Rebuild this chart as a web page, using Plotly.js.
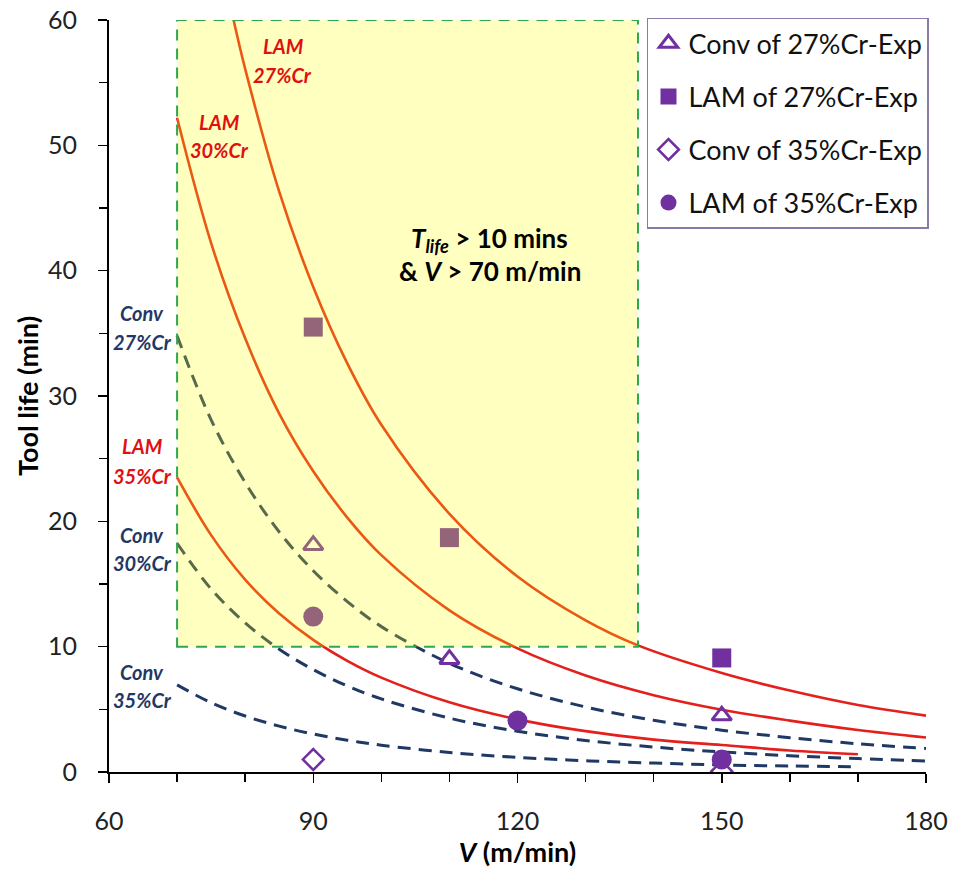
<!DOCTYPE html>
<html>
<head>
<meta charset="utf-8">
<script src="https://cdn.plot.ly/plotly-3.0.1.min.js"></script>
<style>html,body{margin:0;padding:0;background:#fff;}#chart{width:955px;height:874px;}</style>
</head>
<body>
<div id="chart"></div>
<script>
// ---- Data ----
const xTickVals = [60, 90, 120, 150, 180];
const yTickVals = [0, 10, 20, 30, 40, 50, 60];

// Model curves (solid red = LAM, dashed navy = Conv)
const V_LAM27 = [78.3, 80, 85, 90, 95, 100, 110, 120, 130, 137.7, 150, 160, 170, 180];
const T_LAM27 = [60, 56.1, 46.3, 38.7, 32.6, 27.7, 20.6, 15.6, 12.1, 10.1, 7.9, 6.5, 5.35, 4.5];

const V_LAM30 = [70, 75, 80, 85, 90, 95, 100, 110, 120, 130, 140, 150, 160, 170, 180];
const T_LAM30 = [52.2, 42.2, 34.6, 28.6, 24.0, 20.3, 17.3, 12.9, 9.86, 7.7, 6.13, 4.97, 4.1, 3.35, 2.75];

const V_LAM35 = [70, 75, 80, 85, 90, 95, 100, 110, 120, 130, 140, 150, 160, 170];
const T_LAM35 = [23.5, 18.9, 15.35, 12.65, 10.54, 8.87, 7.53, 5.56, 4.2, 3.26, 2.58, 2.15, 1.72, 1.42];

const V_CONV27 = [70, 75, 80, 85, 90, 95, 100, 110, 120, 130, 140, 150, 160, 170, 180];
const T_CONV27 = [34.8, 28.1, 23.1, 19.15, 16.06, 13.6, 11.6, 8.67, 6.64, 5.19, 4.13, 3.34, 2.74, 2.25, 1.88];

const V_CONV30 = [70, 75, 80, 85, 90, 95, 100, 110, 120, 130, 140, 150, 160, 170, 180];
const T_CONV30 = [18.25, 14.6, 11.9, 9.8, 8.17, 6.87, 5.83, 4.3, 3.25, 2.52, 1.99, 1.6, 1.3, 1.07, 0.87];

const V_CONV35 = [70, 75, 80, 85, 90, 95, 100, 110, 120, 130, 140, 150, 160, 170];
const T_CONV35 = [6.95, 5.53, 4.47, 3.66, 3.03, 2.54, 2.14, 1.56, 1.17, 0.9, 0.71, 0.56, 0.48, 0.42];

// Experimental points
const V_exp_conv27 = [90, 110, 150];
const T_exp_conv27 = [18.1, 9.0, 4.5];
const V_exp_lam27 = [90, 110, 150];
const T_exp_lam27 = [35.5, 18.7, 9.1];
const V_exp_conv35 = [90, 150];
const T_exp_conv35 = [1.0, 0.05];
const V_exp_lam35 = [90, 120, 150];
const T_exp_lam35 = [12.4, 4.1, 1.0];

const legendNames = ["Conv of 27%Cr-Exp", "LAM of 27%Cr-Exp", "Conv of 35%Cr-Exp", "LAM of 35%Cr-Exp"];

// Safe zone box
const boxV = [70, 137.7];
const boxT = [10, 60];

// ---- Styles ----
const RED = '#e3201b';
const LBLRED = '#e01010';
const NAVY = '#1f3864';
const PURPLE = '#7030a0';
const FONT = 'Lato, "Open Sans", "Liberation Sans", sans-serif';

function solid(x, y) {
  return {x: x, y: y, type: 'scatter', mode: 'lines', showlegend: false, hoverinfo: 'skip',
          line: {color: RED, width: 2.6, shape: 'spline', smoothing: 1}};
}
function dashed(x, y) {
  return {x: x, y: y, type: 'scatter', mode: 'lines', showlegend: false, hoverinfo: 'skip',
          line: {color: NAVY, width: 3, dash: '13px,8px', shape: 'spline', smoothing: 1}};
}

const traces = [
  solid(V_LAM27, T_LAM27), solid(V_LAM30, T_LAM30), solid(V_LAM35, T_LAM35),
  dashed(V_CONV27, T_CONV27), dashed(V_CONV30, T_CONV30), dashed(V_CONV35, T_CONV35),
  {x: V_exp_conv27, y: T_exp_conv27, name: legendNames[0], legendgroup: 'a', type: 'scatter', mode: 'markers',
   marker: {symbol: 'triangle-up-open', size: 17, color: PURPLE, line: {width: 3, color: PURPLE}}},
  {x: V_exp_lam27, y: T_exp_lam27, name: legendNames[1], legendgroup: 'b', type: 'scatter', mode: 'markers',
   marker: {symbol: 'square', size: 19, color: PURPLE}},
  {x: V_exp_conv35, y: T_exp_conv35, name: legendNames[2], legendgroup: 'c', type: 'scatter', mode: 'markers',
   marker: {symbol: 'diamond-open', size: 16, color: PURPLE, line: {width: 2.5, color: PURPLE}}},
  {x: V_exp_lam35, y: T_exp_lam35, name: legendNames[3], legendgroup: 'd', type: 'scatter', mode: 'markers',
   marker: {symbol: 'circle', size: 20, color: PURPLE}}
];

function lbl(x, y, text, color) {
  return {x: x, y: y, xref: 'x', yref: 'y', text: '<b><i>' + text + '</i></b>', showarrow: false,
          font: {family: FONT, size: 20, color: color}, xanchor: 'center', yanchor: 'middle'};
}
function centerLine(x, y, text) {
  return {x: x, y: y, xref: 'x', yref: 'y', text: '<b>' + text + '</b>', showarrow: false,
          font: {family: FONT, size: 26, color: '#000'}, xanchor: 'center', yanchor: 'middle'};
}

const annotations = [
  lbl(85.6, 57.9, 'LAM', LBLRED), lbl(85.5, 55.6, '27%Cr', LBLRED),
  lbl(76.3, 51.9, 'LAM', LBLRED), lbl(76.3, 49.6, '30%Cr', LBLRED),
  lbl(64.9, 36.6, 'Conv', NAVY), lbl(64.9, 34.3, '27%Cr', NAVY),
  lbl(64.9, 26.0, 'LAM', LBLRED), lbl(64.9, 23.6, '35%Cr', LBLRED),
  lbl(64.9, 18.9, 'Conv', NAVY), lbl(64.9, 16.7, '30%Cr', NAVY),
  lbl(64.9, 8.0, 'Conv', NAVY), lbl(64.9, 5.75, '35%Cr', NAVY),
  centerLine(115.9, 42.5, '<i>T</i><sub><i>life</i></sub> > 10 mins'),
  centerLine(115.9, 40.0, '& <i>V</i> > 70 m/min')
];

const layout = {
  width: 955, height: 874,
  margin: {l: 109, r: 29, t: 20, b: 102},
  paper_bgcolor: '#fff', plot_bgcolor: '#fff',
  font: {family: FONT, color: '#000'},
  showlegend: true,
  legend: {x: 0.6585, y: 1.003, xanchor: 'left', yanchor: 'top',
           bgcolor: '#fff', bordercolor: '#8a7aa8', borderwidth: 1.5,
           font: {family: FONT, size: 27, color: '#111'}, traceorder: 'grouped', tracegroupgap: 15,
           itemwidth: 30},
  xaxis: {range: [60, 180], tickvals: xTickVals, ticktext: xTickVals.map(String),
          ticks: 'outside', ticklen: 9, tickwidth: 1.5, tickcolor: '#000',
          minor: {dtick: 10, ticks: 'outside', ticklen: 8, tickwidth: 1.5, tickcolor: '#000', showgrid: false},
          showline: true, linecolor: '#000', linewidth: 2, showgrid: false, zeroline: false,
          tickfont: {family: FONT, size: 25, color: '#222'}, ticklabelstandoff: 17,
          title: {text: '<b><i>V</i> (m/min)</b>', font: {family: FONT, size: 27, color: '#000'}, standoff: 9}},
  yaxis: {range: [0, 60], tickvals: yTickVals, ticktext: yTickVals.map(String),
          ticks: 'outside', ticklen: 9, tickwidth: 1.5, tickcolor: '#000',
          minor: {dtick: 5, ticks: 'outside', ticklen: 8, tickwidth: 1.5, tickcolor: '#000', showgrid: false},
          showline: true, linecolor: '#000', linewidth: 2, showgrid: false, zeroline: false,
          tickfont: {family: FONT, size: 25, color: '#222'}, ticklabelstandoff: 16,
          title: {text: '<b>Tool life (min)</b>', font: {family: FONT, size: 27, color: '#000'}, standoff: 2}},
  shapes: [
    {type: 'rect', xref: 'x', yref: 'y', x0: boxV[0], x1: boxV[1], y0: boxT[0], y1: boxT[1],
     layer: 'above', fillcolor: 'rgba(255,255,0,0.25)',
     line: {color: '#2fa64f', width: 2, dash: '11px,8px'}}
  ],
  annotations: annotations
};

Plotly.newPlot('chart', traces, layout, {displayModeBar: false, staticPlot: true});
</script>
</body>
</html>
